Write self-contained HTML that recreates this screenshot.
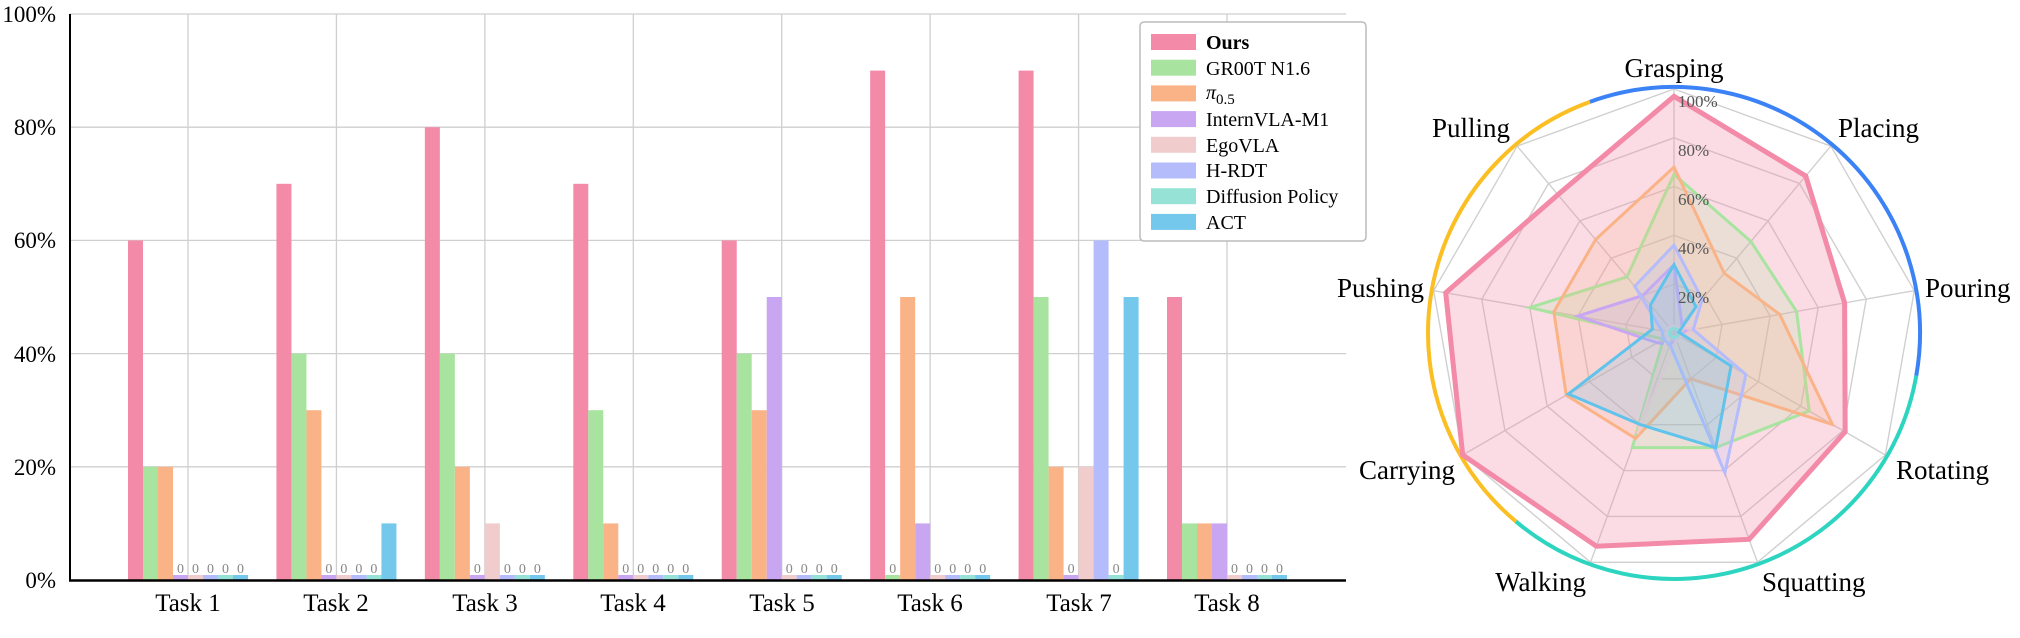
<!DOCTYPE html>
<html><head><meta charset="utf-8"><style>
html,body{margin:0;padding:0;background:#fff;}
svg{display:block;font-family:"Liberation Serif",serif;}
</style></head><body>
<svg id="s" width="2020" height="638" viewBox="0 0 2020 638" xmlns="http://www.w3.org/2000/svg">
<g id="grid" stroke="#cfcfcf" stroke-width="1.3"></g>
<g id="bars"></g>
<line x1="70" y1="14" x2="70" y2="581" stroke="#000" stroke-width="2"/>
<line x1="69" y1="580.5" x2="1346" y2="580.5" stroke="#000" stroke-width="2.5"/>
<g font-size="23" text-anchor="end" fill="#000">
<text x="56" y="22">100%</text><text x="56" y="135">80%</text><text x="56" y="248">60%</text>
<text x="56" y="362">40%</text><text x="56" y="475">20%</text><text x="56" y="588">0%</text>
</g>
<g font-size="25" text-anchor="middle" fill="#000">
<text x="188" y="611">Task 1</text><text x="336" y="611">Task 2</text><text x="485" y="611">Task 3</text>
<text x="633" y="611">Task 4</text><text x="782" y="611">Task 5</text><text x="930" y="611">Task 6</text>
<text x="1079" y="611">Task 7</text><text x="1227" y="611">Task 8</text>
</g>
<g font-size="14" text-anchor="middle" fill="#888">
<text x="180.5" y="573">0</text><text x="195.5" y="573">0</text><text x="210.5" y="573">0</text><text x="225.5" y="573">0</text><text x="240.5" y="573">0</text>
<text x="328.9" y="573">0</text><text x="343.9" y="573">0</text><text x="358.9" y="573">0</text><text x="373.9" y="573">0</text>
<text x="477.4" y="573">0</text><text x="507.4" y="573">0</text><text x="522.4" y="573">0</text><text x="537.4" y="573">0</text>
<text x="625.8" y="573">0</text><text x="640.8" y="573">0</text><text x="655.8" y="573">0</text><text x="670.8" y="573">0</text><text x="685.8" y="573">0</text>
<text x="789.2" y="573">0</text><text x="804.2" y="573">0</text><text x="819.2" y="573">0</text><text x="834.2" y="573">0</text>
<text x="892.7" y="573">0</text><text x="937.7" y="573">0</text><text x="952.7" y="573">0</text><text x="967.7" y="573">0</text><text x="982.7" y="573">0</text>
<text x="1071.1" y="573">0</text><text x="1116.1" y="573">0</text>
<text x="1234.5" y="573">0</text><text x="1249.5" y="573">0</text><text x="1264.5" y="573">0</text><text x="1279.5" y="573">0</text>
</g>
<rect x="1140" y="22" width="226" height="219" rx="4" fill="#fff" stroke="#bbb" stroke-width="1.5"/>
<g id="leg"></g>
<g font-size="20" fill="#000">
<text x="1206" y="49" font-weight="bold">Ours</text>
<text x="1206" y="75">GR00T N1.6</text>
<text x="1206" y="99" font-style="italic">π<tspan font-style="normal" font-size="15" dy="5">0.5</tspan></text>
<text x="1206" y="126">InternVLA-M1</text>
<text x="1206" y="152">EgoVLA</text>
<text x="1206" y="177">H-RDT</text>
<text x="1206" y="203">Diffusion Policy</text>
<text x="1206" y="229">ACT</text>
</g>
<g id="radar"></g>
<g font-size="17" fill="#555">
<text x="1678" y="107">100%</text><text x="1678" y="156">80%</text><text x="1678" y="205">60%</text>
<text x="1678" y="254">40%</text><text x="1678" y="303">20%</text>
</g>
<g font-size="27" fill="#000">
<text x="1674" y="77" text-anchor="middle">Grasping</text>
<text x="1838" y="137">Placing</text>
<text x="1925" y="297">Pouring</text>
<text x="1896" y="479">Rotating</text>
<text x="1762" y="591">Squatting</text>
<text x="1586" y="591" text-anchor="end">Walking</text>
<text x="1455" y="479" text-anchor="end">Carrying</text>
<text x="1424" y="297" text-anchor="end">Pushing</text>
<text x="1510" y="137" text-anchor="end">Pulling</text>
</g>
</svg>
<script>
var NS="http://www.w3.org/2000/svg";
function el(p,t,a){var e=document.createElementNS(NS,t);for(var k in a)e.setAttribute(k,a[k]);p.appendChild(e);return e;}
var cols=["#f28aa8","#a8e4a0","#f9b386","#c9a6f2","#f0cccc","#b4bcfc","#96e2d6","#74c8ec"];
var data=[[60,20,20,0,0,0,0,0],[70,40,30,0,0,0,0,10],[80,40,20,0,10,0,0,0],[70,30,10,0,0,0,0,0],
[60,40,30,50,0,0,0,0],[90,0,50,10,0,0,0,0],[90,50,20,0,20,60,0,50],[50,10,10,10,0,0,0,0]];
var g=document.getElementById("grid"),b=document.getElementById("bars");
for(var k=1;k<=5;k++){var y=580-113.2*k;el(g,"line",{x1:70,y1:y,x2:1346,y2:y});}
for(var i=0;i<8;i++){var c=188+148.43*i;el(g,"line",{x1:c,y1:14,x2:c,y2:580});
 for(var j=0;j<8;j++){var v=data[i][j],h=v?v*5.66:5;el(b,"rect",{x:c-60+15*j,y:580-h,width:15,height:h,fill:cols[j]});}}
var L=document.getElementById("leg");
for(var j=0;j<8;j++)el(L,"rect",{x:1151,y:34+25.7*j,width:45,height:16,fill:cols[j]});
var R=document.getElementById("radar"),cx=1674,cy=333,r100=244,n=9;
function pt(a,v){var t=a*2*Math.PI/n;return [cx+v*r100/100*Math.sin(t),cy-v*r100/100*Math.cos(t)];}
for(var k=1;k<=5;k++){var ps=[];for(var a=0;a<n;a++)ps.push(pt(a,20*k).join(","));
 el(R,"polygon",{points:ps.join(" "),fill:"none",stroke:"#d0d0d0","stroke-width":1.4});}
for(var a=0;a<n;a++){var p=pt(a,100);el(R,"line",{x1:cx,y1:cy,x2:p[0],y2:p[1],stroke:"#d0d0d0","stroke-width":1.4});}
function arc(a0,a1,col){var r=246,t0=a0*Math.PI/180,t1=a1*Math.PI/180;
 var x0=cx+r*Math.sin(t0),y0=cy-r*Math.cos(t0),x1=cx+r*Math.sin(t1),y1=cy-r*Math.cos(t1);
 el(R,"path",{d:"M"+x0+" "+y0+" A"+r+" "+r+" 0 0 1 "+x1+" "+y1,fill:"none",stroke:col,"stroke-width":4});}
arc(-20,100,"#3b82f6");arc(100,220,"#2dd4bf");arc(220,340,"#fbbf24");
var rd=[
 [97,84,71,81,90,93,100,95,74],
 [65,49,51,64,50,50,5,60,30],
 [68,32,44,75,20,46,51,50,50],
 [28,5,5,3,3,5,8,40,20],
 [3,3,10,3,3,44,3,3,3],
 [36,18,8,34,61,5,5,5,25],
 [2,2,2,2,2,2,2,2,2],
 [28,14,2,27,50,40,50,9,15]];
var rc=["#f28aa8","#a8e4a0","#f9b386","#c9a6f2","#f0cccc","#b4bcfc","#96e2d6","#5fc3ec"];
for(var s=0;s<8;s++){var ps=[];for(var a=0;a<n;a++)ps.push(pt(a,rd[s][a]).join(","));
 el(R,"polygon",{points:ps.join(" "),fill:rc[s],"fill-opacity":s==0?0.3:0.2,stroke:rc[s],"stroke-width":s==0?5:3,"stroke-linejoin":"miter"});}
</script>
</body></html>
